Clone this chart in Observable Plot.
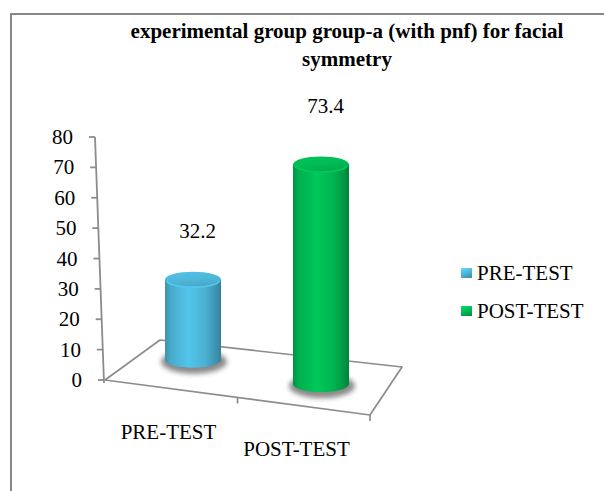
<!DOCTYPE html>
<html>
<head>
<meta charset="utf-8">
<script src="https://cdn.jsdelivr.net/npm/d3@7"></script>
<script src="https://cdn.jsdelivr.net/npm/@observablehq/plot@0.6"></script>
<style>
  body { margin: 0; background: #fff; font-family: "Liberation Serif", "Times New Roman", serif; color: #000; }
  #page { position: relative; width: 604px; height: 491px; overflow: hidden; }
  #frame { position: absolute; left: 10px; top: 13px; width: 700px; height: 600px; border: 2px solid #878787; box-sizing: border-box; }
  #title { position: absolute; left: 97px; top: 17px; width: 500px; text-align: center; font-weight: bold; font-size: 21px; line-height: 28px; white-space: nowrap; }
  #chart { position: absolute; left: 0; top: 0; }
  #legend { position: absolute; left: 461px; top: 259px; font-size: 21px; }
  .item { position: relative; height: 38px; line-height: 28px; white-space: nowrap; }
  .swatch { position: absolute; left: 0; top: 9px; width: 11px; height: 10px; }
  .label { position: absolute; left: 16px; top: 0; }
  #chart text { font-family: "Liberation Serif", "Times New Roman", serif; }
</style>
</head>
<body>
<div id="page">
  <div id="frame"></div>
  <div id="title"></div>
  <div id="chart"></div>
  <div id="legend"></div>
</div>
<script>
// Chart data
const categories = ["PRE-TEST", "POST-TEST"];
const values = [32.2, 73.4];
const seriesColors = ["#4bb1d3", "#00b451"];
const yTicks = [0, 10, 20, 30, 40, 50, 60, 70, 80];
const titleLines = ["experimental group group-a (with pnf) for facial", "symmetry"];

const rows = categories.map((category, i) => ({category, value: values[i], color: seriesColors[i]}));

const serif = "Liberation Serif, Times New Roman, serif";

// Layout of the 3-D floor, value axis and cylinders (pixels)
const view = {
  cornerX: 105,           // front-left corner of the floor, at y = 0
  frontRun: [265, 35],    // front edge of the floor
  leftDepth: [55, -40],   // left edge, going back
  rightDepth: [32, -48],  // right edge, going back
  axisLean: -9 / 243,     // value axis leans left as it rises
  rowRise: -37,           // cylinder row sits behind the front edge
  rowSlope: 0.19,
  persp0: 0.704,          // foreshortening of bar heights, left to right
  perspSlope: 0.0013,
  radius: 28,
  capRy: 8
};
const gridColor = "#8c8c8c";

// Title and legend
const titleEl = document.getElementById("title");
titleLines.forEach(line => {
  const d = document.createElement("div");
  d.textContent = line;
  titleEl.appendChild(d);
});

const legendEl = document.getElementById("legend");
rows.forEach(r => {
  const c = d3.color(r.color);
  const item = document.createElement("div");
  item.className = "item";
  const sw = document.createElement("span");
  sw.className = "swatch";
  sw.style.background = `linear-gradient(160deg, ${c.brighter(0.6)} 0%, ${c} 55%, ${c.darker(0.7)} 100%)`;
  const lb = document.createElement("span");
  lb.className = "label";
  lb.textContent = r.category;
  item.appendChild(sw);
  item.appendChild(lb);
  legendEl.appendChild(item);
});

// Floor, value axis, category labels and cylinders, placed with the plot's scales
function scene(index, scales) {
  const x = scales.x, y = scales.y;
  const g = d3.create("svg:g");
  const defs = g.append("defs");
  const y0 = y(0);
  const bw = x.bandwidth ? x.bandwidth() : 0;

  const FL = [view.cornerX, y0];
  const FR = [FL[0] + view.frontRun[0], FL[1] + view.frontRun[1]];
  const BL = [FL[0] + view.leftDepth[0], FL[1] + view.leftDepth[1]];
  const BR = [FR[0] + view.rightDepth[0], FR[1] + view.rightDepth[1]];
  const frontY = px => y0 + (px - FL[0]) * view.frontRun[1] / view.frontRun[0];

  // floor outline
  g.append("path")
    .attr("d", `M${FL}L${FR}L${BR}L${BL}Z`)
    .attr("fill", "none")
    .attr("stroke", gridColor)
    .attr("stroke-width", 1.7)
    .attr("stroke-linejoin", "round");

  // category ticks along the front edge
  [0.5, 1].forEach(s => {
    const px = FL[0] + s * view.frontRun[0];
    const py = FL[1] + s * view.frontRun[1];
    g.append("line")
      .attr("x1", px).attr("x2", px)
      .attr("y1", py).attr("y2", py + 6)
      .attr("stroke", gridColor).attr("stroke-width", 1.7);
  });

  // value axis
  const axisX = v => FL[0] - 1 + view.axisLean * (y0 - y(v));
  const vMax = d3.max(yTicks);
  g.append("line")
    .attr("x1", axisX(0)).attr("y1", y0 + 3)
    .attr("x2", axisX(vMax)).attr("y2", y(vMax))
    .attr("stroke", gridColor).attr("stroke-width", 1.8);
  yTicks.forEach(v => {
    g.append("line")
      .attr("x1", axisX(v) - 6).attr("x2", axisX(v))
      .attr("y1", y(v)).attr("y2", y(v))
      .attr("stroke", gridColor).attr("stroke-width", 1.8);
    g.append("text")
      .attr("x", axisX(v) - 22).attr("y", y(v) + 7)
      .attr("text-anchor", "end")
      .attr("font-family", serif)
      .attr("font-size", 21)
      .attr("fill", "#000")
      .text(v);
  });

  // shadow blur
  defs.append("filter").attr("id", "base-shadow")
    .attr("x", "-50%").attr("y", "-100%").attr("width", "200%").attr("height", "300%")
    .append("feGaussianBlur").attr("stdDeviation", 2.6);

  rows.forEach((r, i) => {
    const c = d3.color(r.color);
    const cx = x(r.category) + bw / 2;
    const rel = cx - FL[0];
    const baseY = y0 + view.rowRise + view.rowSlope * rel;
    const k = view.persp0 + view.perspSlope * rel;
    const topY = baseY - k * (y0 - y(r.value));
    const R = view.radius, ry = view.capRy;

    const body = defs.append("linearGradient").attr("id", `body-${i}`)
      .attr("x1", 0).attr("x2", 1).attr("y1", 0).attr("y2", 0);
    [[0, c.darker(0.55)], [0.1, c.darker(0.1)], [0.42, c.brighter(0.3)], [0.72, c], [0.92, c.darker(0.55)], [1, c.darker(0.9)]]
      .forEach(([o, col]) => body.append("stop").attr("offset", o).attr("stop-color", col));
    const cap = defs.append("linearGradient").attr("id", `cap-${i}`)
      .attr("x1", 0).attr("x2", 0.35).attr("y1", 0).attr("y2", 1);
    [[0, c.brighter(0.25)], [0.6, c.brighter(0.1)], [1, c.darker(0.15)]]
      .forEach(([o, col]) => cap.append("stop").attr("offset", o).attr("stop-color", col));

    // soft shadow under the base
    g.append("ellipse")
      .attr("cx", cx + 1).attr("cy", baseY + 2)
      .attr("rx", R + 5).attr("ry", ry + 4)
      .attr("fill", "#2a2a2a").attr("opacity", 0.55)
      .attr("filter", "url(#base-shadow)");

    // cylinder body
    g.append("path")
      .attr("d", `M${cx - R},${topY}L${cx - R},${baseY}A${R},${ry} 0 0 0 ${cx + R},${baseY}L${cx + R},${topY}Z`)
      .attr("fill", `url(#body-${i})`);

    // top cap with a soft bevel on its front rim
    g.append("ellipse")
      .attr("cx", cx).attr("cy", topY)
      .attr("rx", R).attr("ry", ry)
      .attr("fill", `url(#cap-${i})`);
    g.append("path")
      .attr("d", `M${cx - R + 2},${topY + 1}A${R - 2},${ry - 1.5} 0 0 0 ${cx + R - 2},${topY + 1}`)
      .attr("fill", "none")
      .attr("stroke", c.brighter(0.45))
      .attr("stroke-width", 1.6)
      .attr("opacity", 0.8);

    // category label below the front edge
    const lx = cx - 24.5;
    g.append("text")
      .attr("x", lx).attr("y", frontY(lx) + 50.5)
      .attr("text-anchor", "middle")
      .attr("font-family", serif)
      .attr("font-size", 21)
      .attr("fill", "#000")
      .text(r.category);
  });

  return g.node();
}

const chart = Plot.plot({
  width: 604,
  height: 491,
  margin: 0,
  style: {background: "transparent", fontFamily: serif, fontSize: "21px", overflow: "visible"},
  x: {type: "band", domain: categories, range: [129, 385], padding: 0, axis: null},
  y: {domain: [0, 80], range: [380, 137], axis: null},
  marks: [
    scene,
    Plot.text(rows, {
      x: "category",
      y: "value",
      text: d => d.value.toFixed(1),
      dx: 4,
      dy: -51,
      fontSize: 21,
      fontFamily: serif,
      fill: "#000"
    })
  ]
});
document.getElementById("chart").appendChild(chart);
</script>
</body>
</html>
